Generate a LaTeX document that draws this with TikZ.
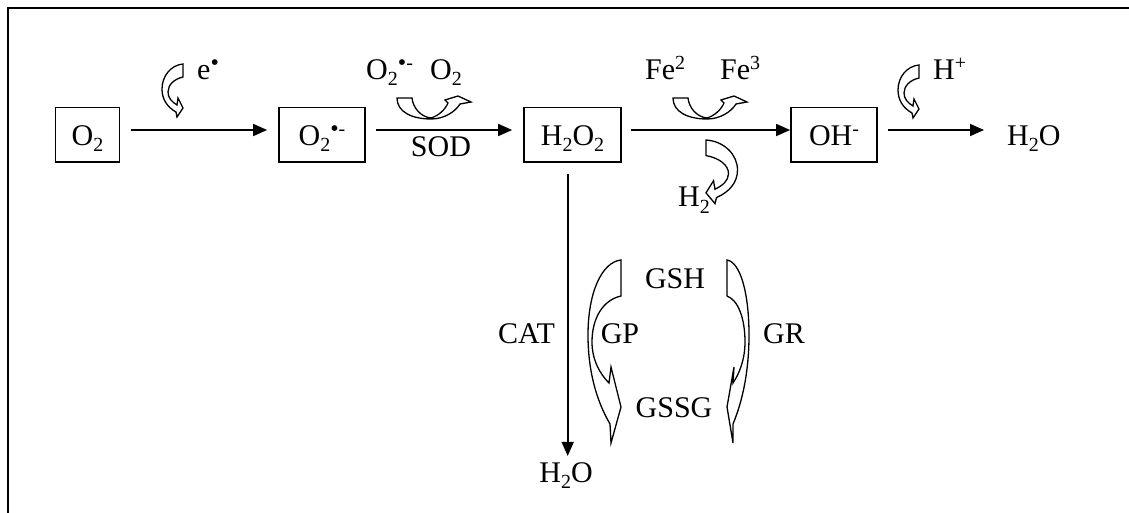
\documentclass[tikz,border=0pt]{standalone}
\usepackage{fontspec}
\setmainfont{Liberation Serif}
\usetikzlibrary{arrows.meta}
\newcommand\sbs[1]{\raisebox{-6pt}{\fontsize{20}{20}\selectfont #1}}
\newcommand\sps[1]{\raisebox{10pt}{\fontsize{20}{20}\selectfont #1}}
\newcommand\bul{\raisebox{9pt}{\fontsize{24}{24}\selectfont •}}
\begin{document}
\begin{tikzpicture}[x=1pt,y=-1pt,
  every node/.style={font=\fontsize{30}{34}\selectfont, inner sep=0pt},
  box/.style={draw, line width=1.7pt, minimum height=54.5pt, text height=23pt, text depth=2pt},
  arr/.style={line width=1.7pt, -{Triangle[length=14pt,width=12pt]}},
  blk/.style={draw, line width=1.3pt, line join=miter, fill=white},
  uarrow/.pic={\draw[blk] (0,0) -- (15,0) .. controls (16,10) and (24,19) .. (34,20) .. controls (41,18) and (48,12) .. (51,5) -- (48,2) -- (61,-2) -- (74,4) -- (63,6) .. controls (58,14) and (47,21) .. (34,21) .. controls (15,21) and (0,14) .. (0,0) -- cycle;},
  carrow/.pic={\draw[blk] (0,0) -- (0,13) .. controls (-9,15) and (-15,21) .. (-15,28) .. controls (-15,34) and (-11,38) .. (-6,41) -- (-5,34) -- (0,44) -- (-6,53) -- (-7,48) .. controls (-16,43) and (-21,35) .. (-21,25) .. controls (-21,12) and (-12,1) .. (0,0) -- cycle;}]
\useasboundingbox (0,0) rectangle (1129,513);
\draw[line width=2pt] (8,513) -- (8,8) -- (1129,8);
% main row
\node[box, minimum width=64pt] (o2) at (87.5,134.75) {O\sbs{2}};
\node[box, minimum width=86pt] (sup) at (322,134.75) {O\sbs{2}\bul\sps{-}};
\node[box, minimum width=97pt] (h2o2) at (572.5,134.75) {H\sbs{2}O\sbs{2}};
\node[box, minimum width=86pt] (oh) at (834,134.75) {OH\sps{-}};
\node[text height=23pt, text depth=2pt, anchor=west] (w1) at (1007,134.75) {H\sbs{2}O};
\draw[arr] ([xshift=10.5pt,yshift=4.75pt]o2.east) -- ([xshift=-11pt,yshift=4.75pt]sup.west);
\draw[arr] ([xshift=10pt,yshift=4.75pt]sup.east) -- ([xshift=-11pt,yshift=4.75pt]h2o2.west);
\draw[arr] ([xshift=9pt,yshift=4.75pt]h2o2.east) -- ([yshift=4.75pt]oh.west);
\draw[arr] ([xshift=10pt,yshift=4.75pt]oh.east) -- ([xshift=-23pt,yshift=4.75pt]w1.west);
% vertical branch
\node[anchor=base] (w2) at (566,482) {H\sbs{2}O};
\coordinate (vtop) at ([xshift=-4.8pt,yshift=-11.5pt]h2o2.south);
\draw[arr, shorten >=6pt] (vtop) -- (vtop |- w2.north);
\node[anchor=base east] (cat) at (555,343) {CAT};
\node[anchor=base] (gp) at (620,343) {GP};
\node[anchor=base] (gr) at (784,343) {GR};
\node[anchor=base] (gsh) at (675,288) {GSH};
\node[anchor=base] (gssg) at (674,417) {GSSG};
\draw[blk] (621,260) -- (621,296) .. controls (603,300) and (592,318) .. (592,342) .. controls (592,360) and (600,374) .. (609,383) -- (611,367) -- (621,407) -- (611,443) -- (610,424) .. controls (596,400) and (588,370) .. (588,335) .. controls (588,292) and (602,262) .. (621,260) -- cycle;
\draw[blk] (727,260) -- (727,296) .. controls (738,300) and (745,318) .. (745,342) .. controls (745,360) and (739,374) .. (733,383) -- (734,367) -- (727,407) -- (733,443) -- (733,424) .. controls (743,400) and (749,370) .. (749,335) .. controls (749,292) and (740,262) .. (727,260) -- cycle;
% top labels and small arrows
\node[anchor=base west] (e) at (197,80) {e\bul};
\pic at (183,64) {carrow};
\node[anchor=base west] (o2s) at (366,80) {O\sbs{2}\bul\sps{-}};
\node[anchor=base west] (o2r) at (430,80) {O\sbs{2}};
\pic at (397,98) {uarrow};
\node[anchor=base] (sod) at (441,157) {SOD};
\node[anchor=base west] (fe2) at (645,80) {Fe\sps{2}};
\node[anchor=base west] (fe3) at (720,80) {Fe\sps{3}};
\pic at (673,98) {uarrow};
\pic[xscale=-1.5, yscale=1.2] at (706,140) {carrow};
\node[anchor=base west] (h2) at (678,207) {H\sbs{2}};
\node[anchor=base west] (hp) at (933,80) {H\sps{+}};
\pic at (919,65) {carrow};
\end{tikzpicture}
\end{document}
